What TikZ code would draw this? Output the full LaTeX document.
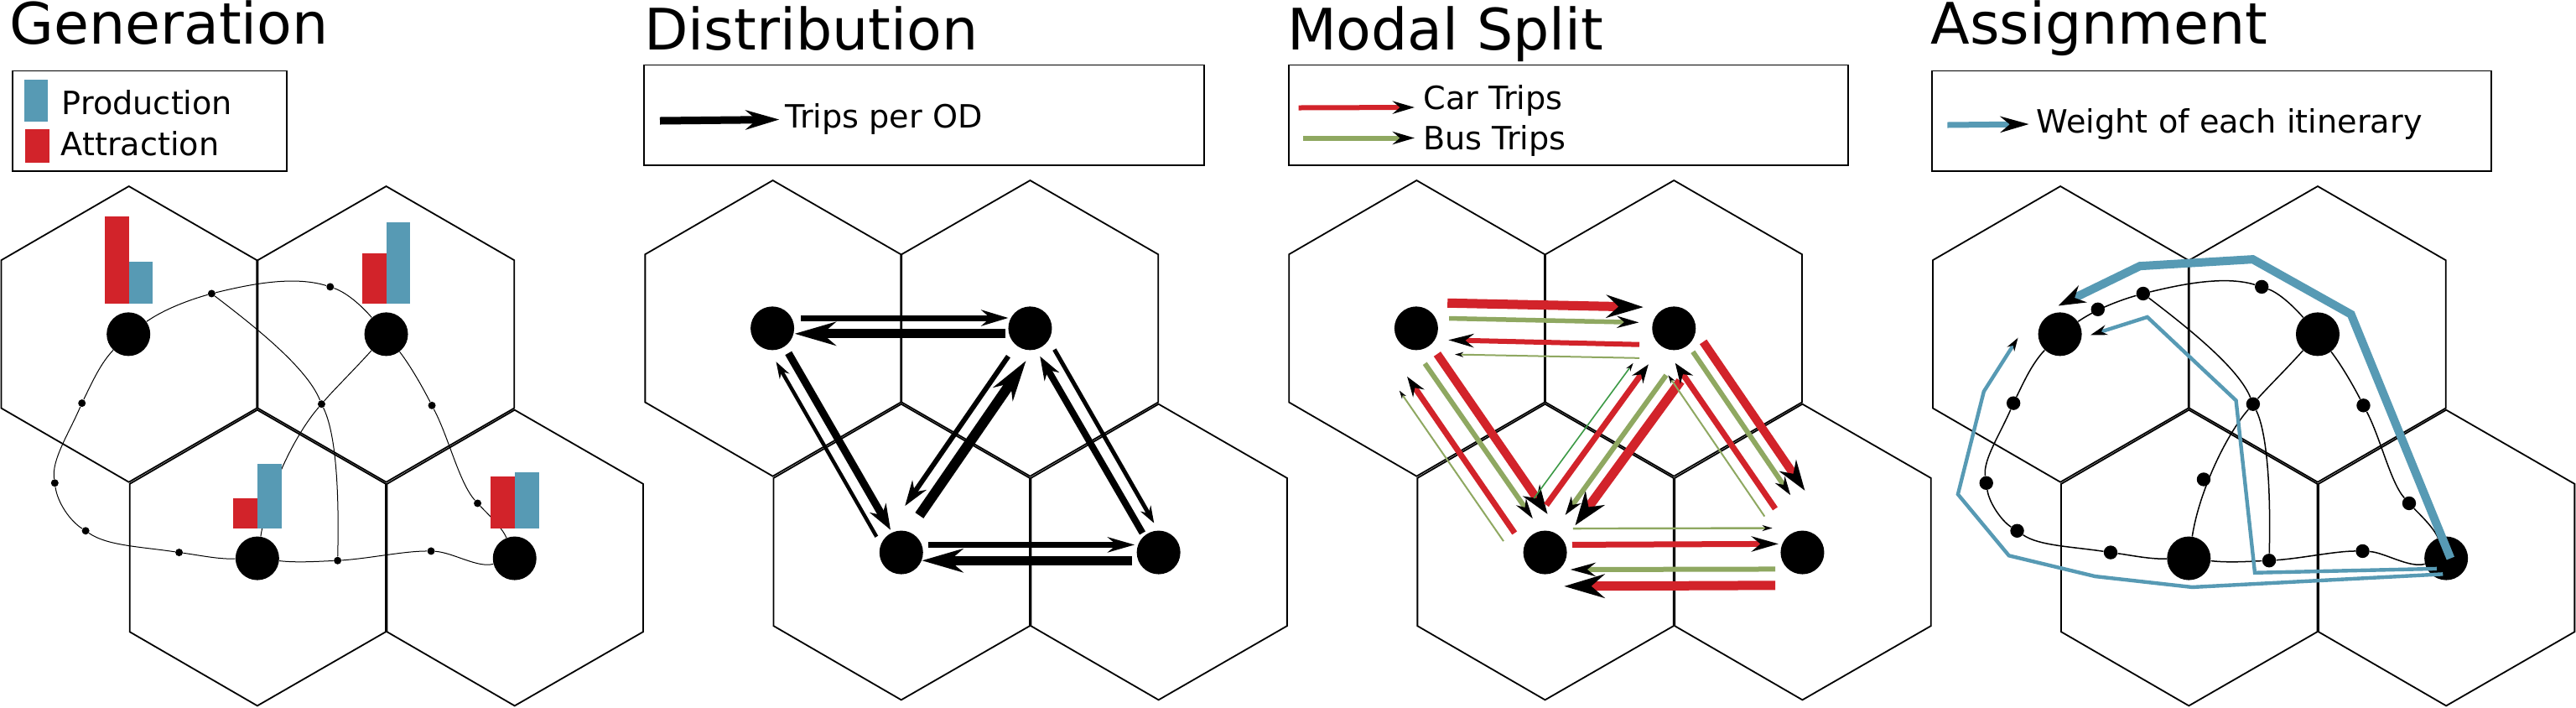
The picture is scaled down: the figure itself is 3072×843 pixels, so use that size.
\documentclass[tikz,border=0pt]{standalone}
\usepackage{fontspec}
\setmainfont{DejaVu Sans}
\usetikzlibrary{arrows.meta}
\definecolor{cBlue}{HTML}{579AB4}
\definecolor{cRed}{HTML}{D2232A}
\definecolor{cGreen}{HTML}{8FA861}
\definecolor{cDark}{HTML}{3C9A46}
\tikzset{
  ahead/.style 2 args={-{Stealth[color=black,length=#1,width=#2]}},
  hexcell/.style={draw=black,line width=.9pt,line join=miter},
  zone/.style={circle,fill=black,inner sep=0pt,minimum size=26pt},
  net/.style={draw=black,line width=.5pt},
  legendbox/.style={draw=black,line width=.9pt,fill=white},
  titletext/.style={anchor=base west,inner sep=0pt,font=\fontsize{34.1}{40}\selectfont},
  legendtext/.style={anchor=base west,inner sep=0pt,font=\fontsize{19.1}{22}\selectfont},
  frame/.style={x=.2455pt,y=-.2688pt},
  panelB/.style={frame,xshift=383.95pt,yshift=3.5pt},
  panelC/.style={frame,xshift=767.85pt,yshift=3.5pt},
  panelD/.style={frame,xshift=1151.7pt},
}
\newcommand\odarrow[8]{\path (#5) ++(#6) coordinate (oS) (#7) ++(#8) coordinate (oE);
  \draw[line width=#1,draw=#4,ahead={#2}{#3}] (oS) -- (oE);}
\newcommand\basegrid[1]{%
  \draw[hexcell] (313,413)--(624,577)--(624,905)--(313,1069)--(3,905)--(3,577)--cycle;
  \draw[hexcell] (938,413)--(1249,577)--(1249,905)--(938,1069)--(626,905)--(626,577)--cycle;
  \draw[hexcell] (625,909)--(937,1073)--(937,1401)--(625,1565)--(315,1401)--(315,1073)--cycle;
  \draw[hexcell] (1250,909)--(1562,1073)--(1562,1401)--(1250,1565)--(940,1401)--(940,1073)--cycle;
  \node[zone] (#1n1) at (312,741) {};
  \node[zone] (#1n2) at (938,741) {};
  \node[zone] (#1n3) at (625,1238) {};
  \node[zone] (#1n4) at (1250,1238) {};
}
% road network; #1 prefix, #2 dot diameter, #3 line width
\newcommand\roadnet[3]{%
  \tikzset{netdot/.style={circle,fill=black,inner sep=0pt,minimum size=#2}}
  \node[netdot] (#1a1) at (514,651) {};
  \node[netdot] (#1a2) at (802,636) {};
  \node[netdot] (#1a3) at (781,896) {};
  \node[netdot] (#1a4) at (820,1243) {};
  \node[netdot] (#1b1) at (199,894) {};
  \node[netdot] (#1b2) at (133,1071) {};
  \node[netdot] (#1b3) at (208,1177) {};
  \node[netdot] (#1b4) at (435,1225) {};
  \node[netdot] (#1c1) at (1047,1222) {};
  \node[netdot] (#1d1) at (1049,899) {};
  \node[netdot] (#1d2) at (1160,1116) {};
  \draw[net,line width=#3]
    (#1n1) .. controls (400,685) and (460,665) .. (#1a1)
    (#1a1) .. controls (600,632) and (710,610) .. (#1a2)
    (#1a2) .. controls (845,650) and (880,680) .. (#1n2)
    (#1a1) .. controls (620,725) and (745,815) .. (#1a3)
    (#1a3) .. controls (810,950) and (825,1050) .. (#1a4)
    (#1n2) .. controls (860,820) and (810,865) .. (#1a3)
    (#1a3) .. controls (715,965) and (650,1090) .. (#1n3)
    (#1n1) .. controls (245,805) and (225,845) .. (#1b1)
    (#1b1) .. controls (165,965) and (125,1020) .. (#1b2)
    (#1b2) .. controls (140,1115) and (170,1155) .. (#1b3)
    (#1b3) .. controls (260,1210) and (340,1212) .. (#1b4)
    (#1b4) .. controls (490,1232) and (530,1240) .. (#1n3)
    (#1n3) .. controls (720,1248) and (770,1245) .. (#1a4)
    (#1a4) .. controls (900,1238) and (980,1222) .. (#1c1)
    (#1c1) .. controls (1100,1225) and (1160,1260) .. (#1n4)
    (#1n2) .. controls (1000,815) and (1030,865) .. (#1d1)
    (#1d1) .. controls (1090,970) and (1115,1070) .. (#1d2)
    (#1d2) .. controls (1185,1140) and (1220,1170) .. (#1n4);
}
\begin{document}
\begin{tikzpicture}[x=.5pt,y=-.5pt]
\useasboundingbox (0,0) rectangle (3072,843);
\fill[white] (0,0) rectangle (3072,843);

% Titles
\node[titletext] (t1) at (11,52) {Generation};
\node[titletext] (t2) at (768,59) {Distribution};
\node[titletext] (t3) at (1534.6,59) {Modal Split};
\node[titletext] (t4) at (2302,52) {Assignment};

% Legend boxes
\draw[legendbox] (15.2,84.4) rectangle (341.7,204.3);
\draw[legendbox] (768.3,77.4) rectangle (1436,197.3);
\draw[legendbox] (1536.7,77.4) rectangle (2204,197.3);
\draw[legendbox] (2304,84.4) rectangle (2971,204.3);

% Legend: Generation
\fill[cBlue] (29,95) rectangle (57.4,144.6);
\fill[cRed] (30.4,154.3) rectangle (58.9,193.5);
\node[legendtext] (l1) at (73.5,136.5) {Production};
\node[legendtext] (l2) at (72.4,185.5) {Attraction};

% Legend: Distribution
\node[legendtext] (l3) at (936,152.7) {Trips per OD};
\coordinate (l3a) at (787,144);
\coordinate (l3b) at (929.4,142.5);
\draw[line width=4.5pt,draw=black,ahead={20pt}{11.5pt}] (l3a) -- (l3b);

% Legend: Modal Split
\node[legendtext] (l4) at (1697,130) {Car Trips};
\node[legendtext] (l5) at (1696.6,178) {Bus Trips};
\coordinate (l4a) at (1548.5,128.5);
\coordinate (l4b) at (1687,128);
\coordinate (l5a) at (1553.9,164.5);
\coordinate (l5b) at (1687,164.5);
\draw[line width=3pt,draw=cRed,ahead={13pt}{7.5pt}] (l4a) -- (l4b);
\draw[line width=3pt,draw=cGreen,ahead={13pt}{7.5pt}] (l5a) -- (l5b);

% Legend: Assignment
\node[legendtext] (l6) at (2428.4,158.6) {Weight of each itinerary};
\coordinate (l6a) at (2322.4,149);
\coordinate (l6b) at (2419.7,148);
\draw[line width=3.5pt,draw=cBlue,ahead={17pt}{9.5pt}] (l6a) -- (l6b);

% ---------- Generation ----------
\begin{scope}[frame]
  \basegrid{g}
  \roadnet{g}{4.5pt}{.5pt}
  \fill[cRed] (255,480) rectangle (313,674);
  \fill[cBlue] (313,580) rectangle (371,674);
  \fill[cRed] (880,561) rectangle (938,674);
  \fill[cBlue] (938,492) rectangle (996,674);
  \fill[cRed] (567,1105) rectangle (625,1171);
  \fill[cBlue] (625,1029) rectangle (684,1171);
  \fill[cRed] (1192,1057) rectangle (1250,1171);
  \fill[cBlue] (1250,1047) rectangle (1309,1171);
\end{scope}

% ---------- Distribution ----------
\begin{scope}[panelB]
  \basegrid{d}
  \odarrow{3.5pt}{16pt}{9.5pt}{black}{dn1}{70,-23}{dn2}{-53,-23}
  \odarrow{5.5pt}{24.5pt}{14pt}{black}{dn2}{-60,12}{dn1}{54,12}
  \odarrow{4.5pt}{15pt}{11pt}{black}{dn1}{39,55}{dn3}{-26,-50}
  \odarrow{2.2pt}{10pt}{6.5pt}{black}{dn3}{-60,-35}{dn1}{9,74}
  \odarrow{3pt}{15pt}{10pt}{black}{dn2}{-53,62}{dn3}{9,-103}
  \odarrow{6pt}{24pt}{14pt}{black}{dn3}{44,-82}{dn2}{-10,72}
  \odarrow{2.5pt}{10pt}{7pt}{black}{dn2}{59,47}{dn4}{-11,-65}
  \odarrow{4pt}{14pt}{10pt}{black}{dn4}{-39,-43}{dn2}{24,62}
  \odarrow{3.5pt}{16pt}{9pt}{black}{dn3}{66,-17}{dn4}{-58,-17}
  \odarrow{5.5pt}{24.5pt}{14pt}{black}{dn4}{-64,18}{dn3}{50,18}
\end{scope}

% ---------- Modal Split ----------
\begin{scope}[panelC]
  \basegrid{m}
  \odarrow{5.5pt}{22pt}{13.5pt}{cRed}{mn1}{76,-56}{mn2}{-74,-47}
  \odarrow{2.75pt}{13pt}{7pt}{cGreen}{mn1}{80,-22}{mn2}{-85,-13}
  \odarrow{3pt}{15pt}{8pt}{cRed}{mn2}{-84,36}{mn1}{78,26}
  \odarrow{1pt}{5pt}{3pt}{cGreen}{mn2}{-84,66}{mn1}{94,58}
  \odarrow{5pt}{17pt}{12pt}{cRed}{mn1}{51,57}{mn3}{6,-85}
  \odarrow{3pt}{12pt}{7pt}{cGreen}{mn1}{21,78}{mn3}{-30,-75}
  \odarrow{3.5pt}{12pt}{8pt}{cRed}{mn3}{-74,-43}{mn1}{-22,107}
  \odarrow{1pt}{5pt}{3pt}{cGreen}{mn3}{-101,-25}{mn1}{-41,138}
  \odarrow{3.5pt}{11pt}{8pt}{cRed}{mn3}{3,-105}{mn2}{-62,80}
  \odarrow{.8pt}{5pt}{3pt}{cDark}{mn3}{-27,-120}{mn2}{-99,77}
  \odarrow{5.5pt}{20pt}{14pt}{cRed}{mn2}{16,117}{mn3}{73,-60}
  \odarrow{3pt}{11pt}{7pt}{cGreen}{mn2}{-19,104}{mn3}{49,-83}
  \odarrow{5pt}{18pt}{12pt}{cRed}{mn2}{71,30}{mn4}{6,-137}
  \odarrow{3pt}{11pt}{7pt}{cGreen}{mn2}{46,52}{mn4}{-29,-127}
  \odarrow{3.5pt}{12pt}{9pt}{cRed}{mn4}{-66,-97}{mn2}{3,77}
  \odarrow{1pt}{5pt}{3pt}{cGreen}{mn4}{-92,-80}{mn2}{-14,104}
  \odarrow{1.2pt}{6pt}{3.5pt}{cGreen}{mn3}{68,-53}{mn4}{-73,-54}
  \odarrow{3.5pt}{16pt}{9pt}{cRed}{mn3}{66,-17}{mn4}{-58,-19}
  \odarrow{3pt}{15pt}{8pt}{cGreen}{mn4}{-66,37}{mn3}{61,38}
  \odarrow{5.5pt}{24pt}{14pt}{cRed}{mn4}{-66,73}{mn3}{46,75}
\end{scope}

% ---------- Assignment ----------
\begin{scope}[panelD]
  \basegrid{a}
  \roadnet{a}{8.2pt}{.75pt}
  \node[netdot] (ae1) at (404,686) {};
  \node[netdot] (ae2) at (661,1063) {};
  \path (an4) ++(10.6,0) coordinate (w1S) (an1) ++(-4,-63) coordinate (w1E);
  \draw[line width=5pt,draw=cBlue,line join=miter,ahead={16pt}{11pt}]
    (w1S) -- (1018.9,697) -- (780.2,575) -- (506,590) -- (w1E);
  \path (an4) ++(-23,23) coordinate (w2S) (an1) ++(74,2) coordinate (w2E);
  \draw[line width=2.2pt,draw=cBlue,line join=miter,ahead={10pt}{6pt}]
    (w2S) -- (785.3,1270) -- (739.6,888) -- (524.2,703) -- (w2E);
  \path (an4) ++(-8,35) coordinate (w3S) (an1) ++(-102,8) coordinate (w3E);
  \draw[line width=2.2pt,draw=cBlue,line join=miter,ahead={8pt}{5pt}]
    (w3S) -- (632.9,1302) -- (397.3,1278) -- (188,1232) -- (64.1,1096) -- (127.1,868) -- (w3E);
\end{scope}
\end{tikzpicture}
\end{document}
